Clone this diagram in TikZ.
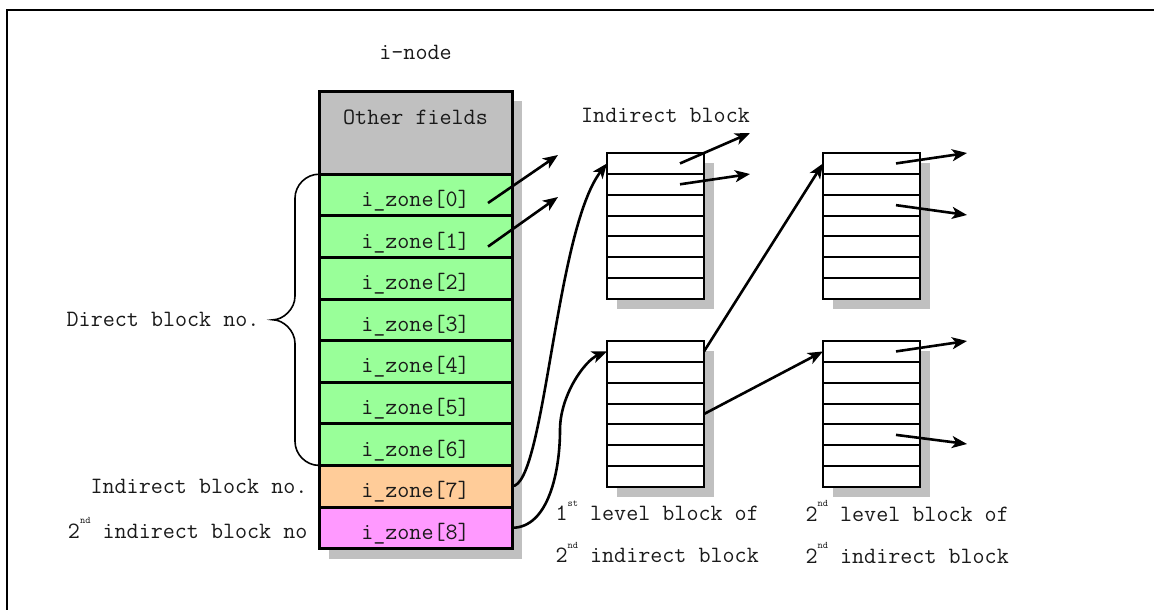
\documentclass[tikz,border=0pt]{standalone}
\usetikzlibrary{arrows.meta,positioning,backgrounds}
\definecolor{Ink}{HTML}{1A1A1A}
\definecolor{ShadowGray}{HTML}{C0C0C0}
\definecolor{FieldGray}{HTML}{C0C0C0}
\definecolor{DirectFill}{HTML}{99FF99}
\definecolor{IndirectFill}{HTML}{FFCC99}
\definecolor{DoubleFill}{HTML}{FF99FF}
\newcommand{\ordsup}[1]{\raisebox{0.62em}{\fontsize{10}{10}\selectfont #1}}
\tikzset{
  zonecell/.style={draw=black, line width=3pt, minimum width=193pt, minimum height=41.6pt,
    inner sep=0pt, outer sep=0pt, anchor=north west, text=Ink, text height=23pt, text depth=0pt,
    font=\ttfamily\fontsize{23.4}{27}\selectfont},
  blockrow/.style={draw=black, fill=white, line width=2pt, minimum width=97pt,
    minimum height=20.86pt, inner sep=0pt, outer sep=0pt, anchor=north west},
  shadowbox/.style={fill=ShadowGray},
  pointer/.style={-{Stealth[length=15pt,width=12pt,inset=4pt]}, draw=black, line width=2.6pt},
  brace/.style={draw=black, line width=1.6pt},
  caption/.style={text=Ink, font=\ttfamily\fontsize{23.4}{42}\selectfont},
}
% one block of seven zone numbers: name, left, top
\newcommand{\zoneblock}[3]{%
  \foreach \r in {0,...,6}
    \node[blockrow] (#1-\r) at (#2,{#3+\r*20.86}) {};
  \begin{scope}[on background layer]
    \fill[shadowbox] ([shift={(10,10)}]#1-0.north west) rectangle ([shift={(10,10)}]#1-6.south east);
  \end{scope}
}

\begin{document}
\begin{tikzpicture}[x=1pt, y=-1pt]
  \useasboundingbox (0,0) rectangle (1154,610);
  \draw[line width=2.5pt] (7,610) |- (1154,10);

  % i-node table
  \node[zonecell, fill=FieldGray, minimum height=83.2pt] (other) at (319,91) {};
  \node[caption] (othertext) at ([yshift=-26]other.north) {Other fields};
  \foreach \i in {0,...,6}
    \node[zonecell, fill=DirectFill] (z\i) at (319,{174.2+\i*41.6}) {i\_zone[\i]};
  \node[zonecell, fill=IndirectFill] (z7) at (319,465.4) {i\_zone[7]};
  \node[zonecell, fill=DoubleFill] (z8) at (319,507) {i\_zone[8]};
  \begin{scope}[on background layer]
    \fill[shadowbox] ([shift={(10,10)}]other.north west) rectangle ([shift={(10,10)}]z8.south east);
  \end{scope}
  \node[caption, above=28pt of other] (inodetitle) {i-node};

  % zone blocks
  \zoneblock{ind}{607}{153}
  \zoneblock{dindA}{823}{153}
  \zoneblock{dind}{607}{341}
  \zoneblock{dindB}{823}{341}
  \node[caption, above=27pt of ind-0, xshift=10pt] (indtitle) {Indirect block};
  \node[caption, anchor=north west, align=left] (dindtitle) at ([shift={(-55,10)}]dind-6.south west)
    {1\ordsup{st} level block of\\2\ordsup{nd} indirect block};
  \node[caption, anchor=north west, align=left] (dindBtitle) at ([shift={(-21,10)}]dindB-6.south west)
    {2\ordsup{nd} level block of\\2\ordsup{nd} indirect block};

  % brace and side labels
  \draw[brace] (z0.north west) .. controls +(-13,0) and +(0,-13) .. ++(-24,24) -- ++(0,98)
    .. controls +(0,13) and +(10,0) .. ++(-22,23.6) coordinate (bracetip)
    .. controls +(10,0) and +(0,-13) .. ++(22,23.6) -- ++(0,98)
    .. controls +(0,13) and +(-13,0) .. (z6.south west);
  \node[caption, left=10pt of bracetip] (directlabel) {Direct block no.};
  \node[caption, left=8pt of z7] (indlabel) {Indirect block no.};
  \node[caption, left=8pt of z8] (dindlabel) {2\ordsup{nd} indirect block no};

  % free ends of pointers
  \coordinate (z0out) at (558,155);
  \coordinate (z1out) at (558,197);
  \coordinate (ind0out) at (750,133);
  \coordinate (ind1out) at (750,174);
  \coordinate (dindA0out) at (967,153);
  \coordinate (dindA2out) at (967,215);
  \coordinate (dindB0out) at (967,341);
  \coordinate (dindB4out) at (967,444);

  \draw[pointer] ([shift={(-24,8)}]z0.east) -- (z0out);
  \draw[pointer] ([shift={(-24,10)}]z1.east) -- (z1out);
  \draw[pointer] (z7.east) .. controls +(33,0) and +(-52,67) .. (ind-0.west);
  \draw[pointer] (z8.east) .. controls +(37,0) and +(0,40) .. (560,430)
    .. controls +(0,-35) and +(-22,9) .. (dind-0.west);
  \draw[pointer] (dind-0.east) -- (dindA-0.west);
  \draw[pointer] (dind-3.east) -- (dindB-0.west);
  \draw[pointer] ([xshift=24.5]ind-0.center) -- (ind0out);
  \draw[pointer] ([xshift=24.5]ind-1.center) -- (ind1out);
  \draw[pointer] ([xshift=24.5]dindA-0.center) -- (dindA0out);
  \draw[pointer] ([xshift=24.5]dindA-2.center) -- (dindA2out);
  \draw[pointer] ([xshift=24.5]dindB-0.center) -- (dindB0out);
  \draw[pointer] ([xshift=24.5]dindB-4.center) -- (dindB4out);
\end{tikzpicture}
\end{document}
